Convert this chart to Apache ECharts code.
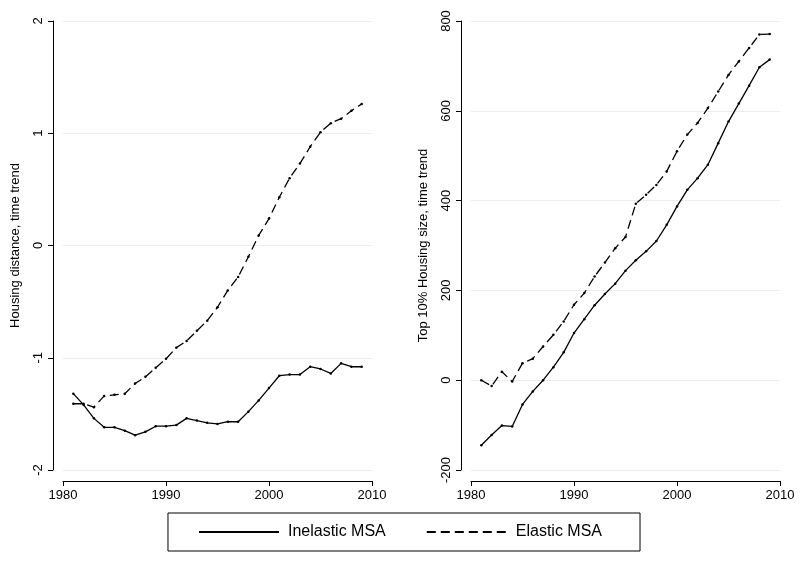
<!DOCTYPE html>
<html>
<head>
<meta charset="utf-8">
<script src="https://cdn.jsdelivr.net/npm/echarts@6/dist/echarts.min.js"></script>
<style>html,body{margin:0;padding:0;background:#fff}#chart{width:800px;height:571px}</style>
</head>
<body>
<div id="chart"></div>
<script>
var years = [1981,1982,1983,1984,1985,1986,1987,1988,1989,1990,1991,1992,1993,1994,1995,1996,1997,1998,1999,2000,2001,2002,2003,2004,2005,2006,2007,2008,2009]
var distInelastic = [-1.32,-1.42,-1.54,-1.62,-1.62,-1.65,-1.69,-1.66,-1.61,-1.61,-1.60,-1.54,-1.56,-1.58,-1.59,-1.57,-1.57,-1.48,-1.38,-1.27,-1.16,-1.15,-1.15,-1.08,-1.10,-1.14,-1.05,-1.08,-1.08]
var distElastic = [-1.41,-1.41,-1.44,-1.34,-1.33,-1.32,-1.23,-1.17,-1.09,-1.01,-0.91,-0.85,-0.76,-0.67,-0.55,-0.40,-0.28,-0.10,0.09,0.24,0.43,0.60,0.73,0.88,1.01,1.09,1.13,1.20,1.26]
var sizeInelastic = [-145,-122,-101,-103,-54,-25,0,29,62,105,136,167,192,215,244,267,287,310,346,387,424,450,480,528,576,616,656,697,714]
var sizeElastic = [0,-13,19,-3,38,48,75,101,131,168,194,231,262,294,319,393,413,435,465,510,547,573,606,643,680,710,740,770,771]

function pairs(ys){ return years.map(function(y,i){ return [y, ys[i]] }) }

var font = 'Liberation Sans'
function xAx(idx){
  return {gridIndex:idx, type:'value', min:1980, max:2010, interval:10, offset:11,
    axisLine:{onZero:false, lineStyle:{color:'#000', width:1}}, axisTick:{length:5, lineStyle:{color:'#000'}},
    axisLabel:{color:'#000', fontFamily:font, fontSize:13, margin:8, formatter:function(v){ return String(v) }},
    splitLine:{show:false}}
}
function yAx(idx, min, max, interval, name){
  return {gridIndex:idx, type:'value', min:min, max:max, interval:interval, offset:10,
    name:name, nameLocation:'middle', nameGap:31, nameTextStyle:{color:'#000', fontFamily:font, fontSize:13},
    axisLine:{show:true, onZero:false, lineStyle:{color:'#000'}}, axisTick:{show:true, length:5, lineStyle:{color:'#000'}},
    axisLabel:{color:'#000', fontFamily:font, fontSize:13, rotate:90, margin:8},
    splitLine:{lineStyle:{color:'#e6eef0', width:1}}}
}
function line(name, idx, data, dashed){
  return {name:name, type:'line', xAxisIndex:idx, yAxisIndex:idx, data:pairs(data),
    symbol:'circle', symbolSize:2.5, itemStyle:{color:'#000'},
    lineStyle:{color:'#000', width:1.3, type: dashed ? [9,5] : 'solid'}, animation:false}
}

var option = {
  animation:false,
  grid:[
    {left:63, right:428, top:21, bottom:101},
    {left:471, right:20, top:21, bottom:101}
  ],
  xAxis:[xAx(0), xAx(1)],
  yAxis:[yAx(0,-2,2,1,'Housing distance, time trend'), yAx(1,-200,800,200,'Top 10% Housing size, time trend')],
  legend:{top:513, left:'center', itemWidth:80, itemHeight:10, itemGap:40,
    padding:[11,38,11,30], borderColor:'#000', borderWidth:1, borderRadius:0,
    textStyle:{color:'#000', fontFamily:font, fontSize:16, padding:[0,0,0,4]},
    itemStyle:{opacity:0},
    data:['Inelastic MSA','Elastic MSA']},
  series:[
    line('Inelastic MSA',0,distInelastic,false),
    line('Elastic MSA',0,distElastic,true),
    line('Inelastic MSA',1,sizeInelastic,false),
    line('Elastic MSA',1,sizeElastic,true)
  ]
}
echarts.init(document.getElementById('chart')).setOption(option)
</script>
</body>
</html>
